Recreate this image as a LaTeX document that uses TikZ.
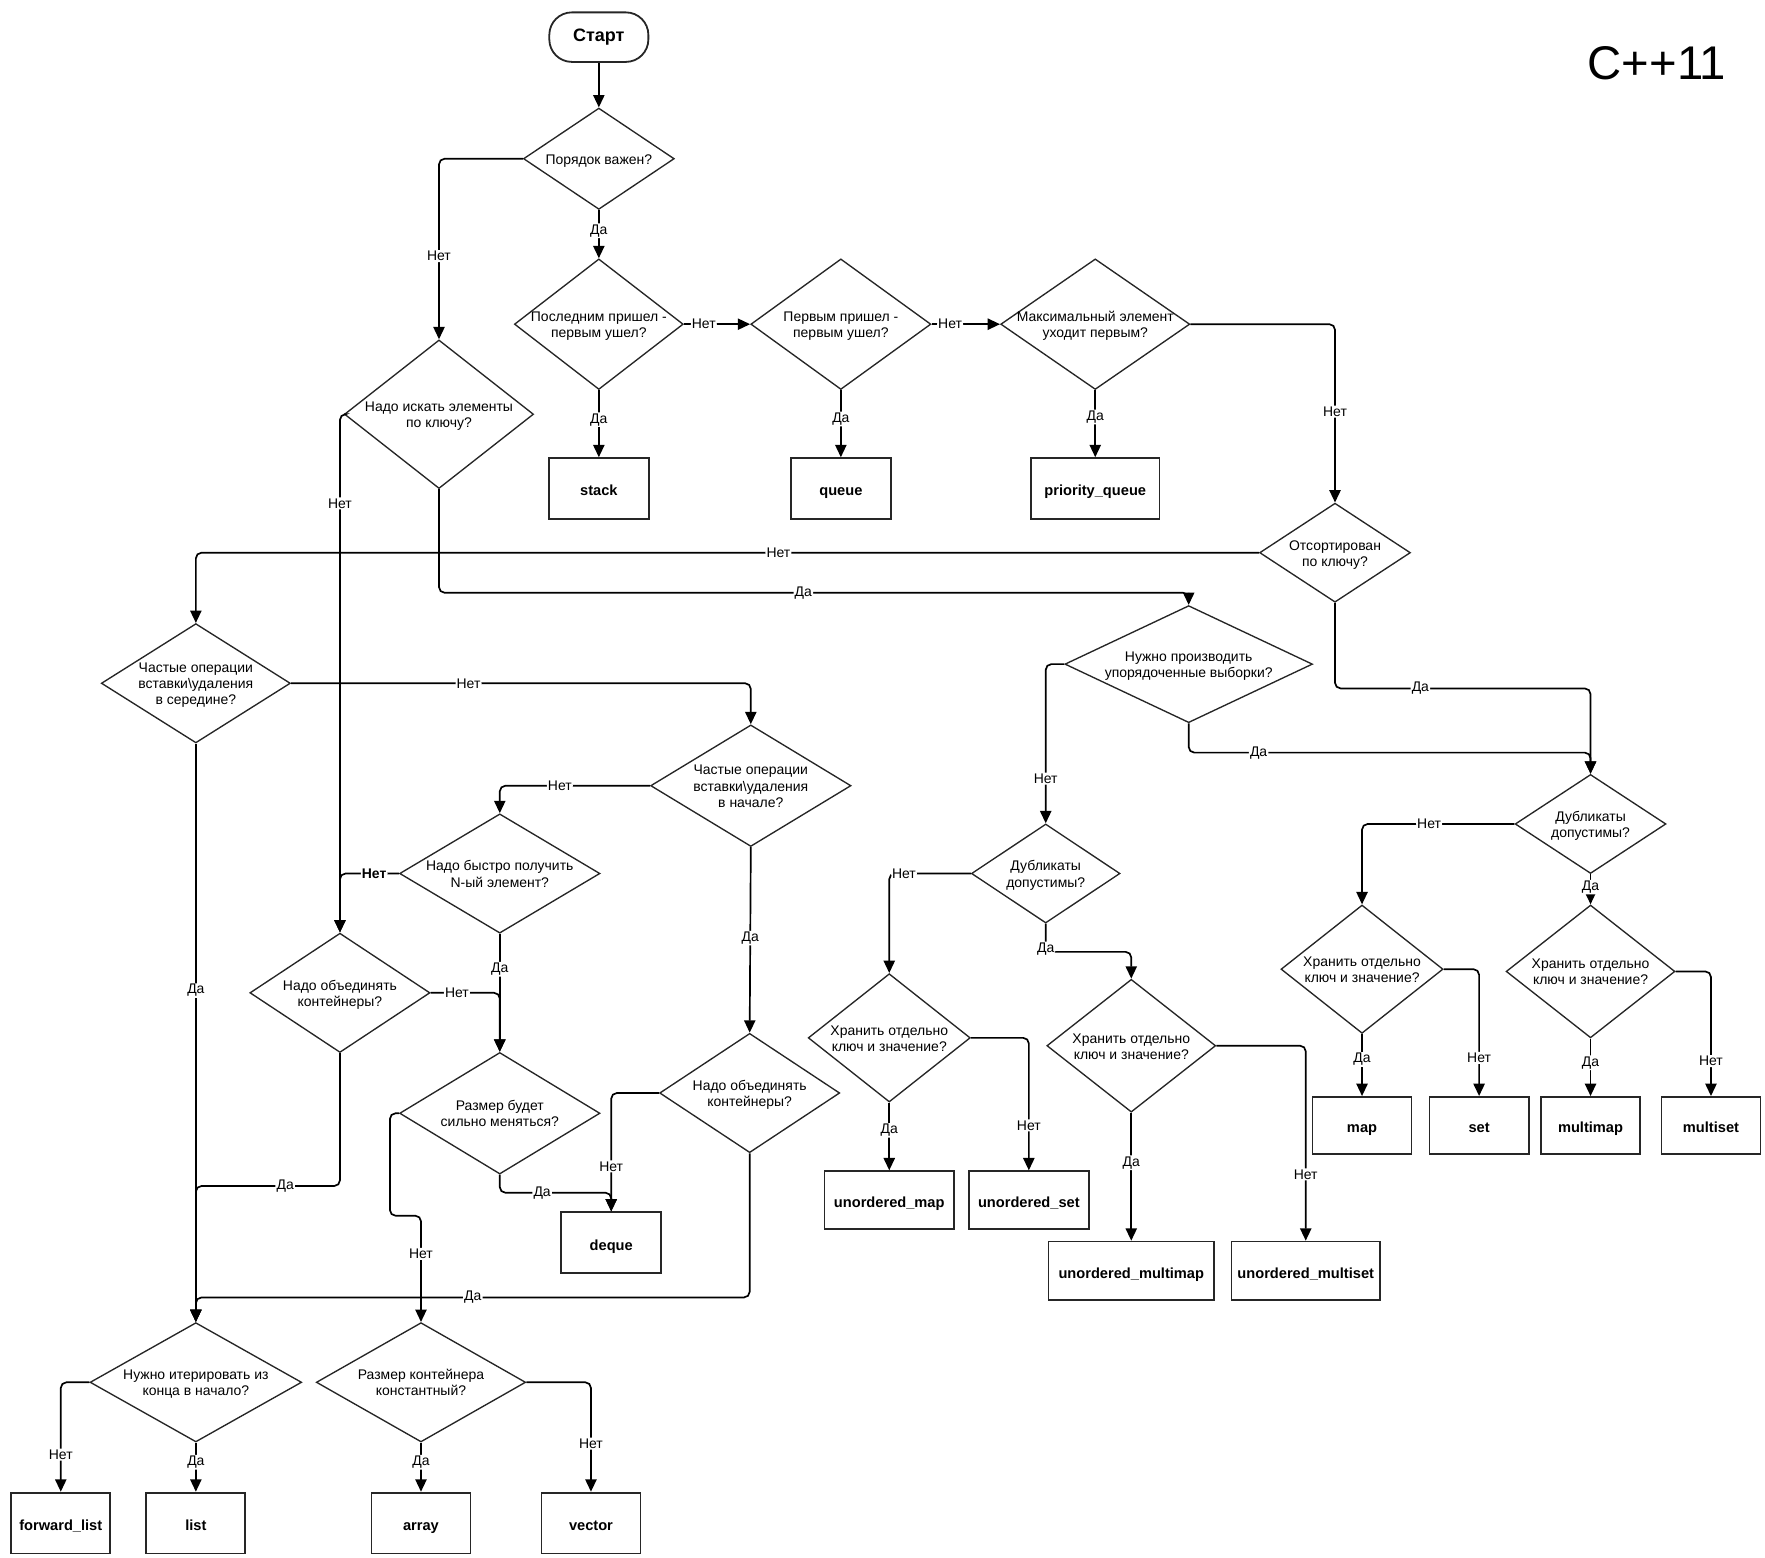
\documentclass[tikz,border=0pt]{standalone}
\usepackage{fontspec}
\setmainfont{Liberation Sans}
\usepackage{tikz}
\usetikzlibrary{shapes.geometric,arrows.meta}

\newcommand{\figfont}{\fontsize{12.4}{14.4}\selectfont}
\newcommand{\qtext}[1]{\smash{\makebox[0pt]{\raisebox{-0.4em}{\begin{tabular}{@{}c@{}}#1\end{tabular}}}}}

\tikzset{
  decision/.style={diamond, draw=black!85, line width=1.2pt, inner sep=0pt},
  leaf/.style={draw=black!85, line width=1.6pt, inner sep=0pt, text height=13.5pt, text depth=0.5pt,
    font=\fontsize{13}{15}\selectfont\bfseries},
  terminal/.style={draw=black!85, line width=1.6pt, rounded corners=20pt,
    minimum width=88pt, minimum height=44pt, font=\fontsize{16}{19}\selectfont\bfseries},
  flow/.style={draw, line width=1.5pt, rounded corners=5pt, ->},
  lbl/.style={fill=white, inner sep=1pt, font=\figfont},
}

\begin{document}
\begin{tikzpicture}[x=1pt,y=-1pt,font=\figfont]
\useasboundingbox (0,0) rectangle (1568,1384);
\begin{scope}[>={Triangle[length=11pt,width=10pt]}]
    % start and title
    \node[terminal] (start) at (532,33) {Старт};
    \node[font=\fontsize{42}{48}\selectfont] (cpp) at (1472,56) {C++11};

    % questions
    \node[decision, minimum width=134pt, minimum height=90pt] (order) at (532,141) {\qtext{Порядок важен?}};
    \node[decision, minimum width=150pt, minimum height=116pt] (lifo) at (532,288) {\qtext{Последним пришел -\\первым ушел?}};
    \node[decision, minimum width=160pt, minimum height=116pt] (fifo) at (747,288) {\qtext{Первым пришел -\\первым ушел?}};
    \node[decision, minimum width=168pt, minimum height=116pt] (maxfirst) at (973,288) {\qtext{Максимальный элемент\\уходит первым?}};
    \node[decision, minimum width=168pt, minimum height=132pt] (bykey) at (390,368) {\qtext{Надо искать элементы\\по ключу?}};
    \node[decision, minimum width=134pt, minimum height=88pt] (sorted) at (1186,491) {\qtext{Отсортирован\\по ключу?}};
    \node[decision, minimum width=168pt, minimum height=106pt] (midins) at (174,607) {\qtext{Частые операции\\вставки\textbackslash удаления\\в середине?}};
    \node[decision, minimum width=220pt, minimum height=104pt] (ordsel) at (1056,590) {\qtext{Нужно производить\\упорядоченные выборки?}};
    \node[decision, minimum width=178pt, minimum height=108pt] (frontins) at (667,698) {\qtext{Частые операции\\вставки\textbackslash удаления\\в начале?}};
    \node[decision, minimum width=134pt, minimum height=88pt] (dupsR) at (1413,732) {\qtext{Дубликаты\\допустимы?}};
    \node[decision, minimum width=178pt, minimum height=106pt] (nth) at (444,776) {\qtext{Надо быстро получить\\N-ый элемент?}};
    \node[decision, minimum width=132pt, minimum height=88pt] (dupsM) at (929,776) {\qtext{Дубликаты\\допустимы?}};
    \node[decision, minimum width=160pt, minimum height=106pt] (mergeL) at (302,882) {\qtext{Надо объединять\\контейнеры?}};
    \node[decision, minimum width=144pt, minimum height=114pt] (kvA) at (1210,861) {\qtext{Хранить отдельно\\ключ и значение?}};
    \node[decision, minimum width=150pt, minimum height=118pt] (kvB) at (1413,863) {\qtext{Хранить отдельно\\ключ и значение?}};
    \node[decision, minimum width=144pt, minimum height=114pt] (kvC) at (790,922) {\qtext{Хранить отдельно\\ключ и значение?}};
    \node[decision, minimum width=150pt, minimum height=118pt] (kvD) at (1005,929) {\qtext{Хранить отдельно\\ключ и значение?}};
    \node[decision, minimum width=178pt, minimum height=108pt] (resize) at (444,989) {\qtext{Размер будет\\сильно меняться?}};
    \node[decision, minimum width=160pt, minimum height=106pt] (mergeR) at (666,971) {\qtext{Надо объединять\\контейнеры?}};
    \node[decision, minimum width=188pt, minimum height=106pt] (backiter) at (174,1228) {\qtext{Нужно итерировать из\\конца в начало?}};
    \node[decision, minimum width=186pt, minimum height=106pt] (fixsize) at (374,1228) {\qtext{Размер контейнера\\константный?}};

    % containers
    \node[leaf, minimum width=89pt, minimum height=54pt] (stack) at (532,434) {stack};
    \node[leaf, minimum width=89pt, minimum height=54pt] (queue) at (747,434) {queue};
    \node[leaf, minimum width=114pt, minimum height=54pt] (pqueue) at (973,434) {priority\_queue};
    \node[leaf, minimum width=89pt, minimum height=54pt] (deque) at (543,1104) {deque};
    \node[leaf, minimum width=115pt, minimum height=51pt] (umap) at (790,1066) {unordered\_map};
    \node[leaf, minimum width=107pt, minimum height=51pt] (uset) at (914,1066) {unordered\_set};
    \node[leaf, minimum width=147pt, minimum height=52pt] (umultimap) at (1005,1129) {unordered\_multimap};
    \node[leaf, minimum width=132pt, minimum height=52pt] (umultiset) at (1160,1129) {unordered\_multiset};
    \node[leaf, minimum width=88pt, minimum height=51pt] (map) at (1210,1000) {map};
    \node[leaf, minimum width=88pt, minimum height=51pt] (set) at (1314,1000) {set};
    \node[leaf, minimum width=88pt, minimum height=51pt] (multimap) at (1413,1000) {multimap};
    \node[leaf, minimum width=88pt, minimum height=51pt] (multiset) at (1520,1000) {multiset};
    \node[leaf, minimum width=88pt, minimum height=54pt] (fwdlist) at (54,1353) {forward\_list};
    \node[leaf, minimum width=88pt, minimum height=54pt] (list) at (174,1353) {list};
    \node[leaf, minimum width=88pt, minimum height=54pt] (array) at (374,1353) {array};
    \node[leaf, minimum width=88pt, minimum height=54pt] (vector) at (525,1353) {vector};

    % top part
    \draw[flow] (start.south) -- (order.north);
    \draw[flow] (order.south) -- node[lbl,pos=0.43]{Да} (lifo.north);
    \draw[flow] (order.west) -| node[lbl,pos=0.77]{Нет} (bykey.north);
    \draw[flow] (lifo.east) -- node[lbl,pos=0.3]{Нет} (fifo.west);
    \draw[flow] (fifo.east) -- node[lbl,pos=0.27]{Нет} (maxfirst.west);
    \draw[flow] (lifo.south) -- node[lbl,pos=0.44]{Да} (stack.north);
    \draw[flow] (fifo.south) -- node[lbl,pos=0.43]{Да} (queue.north);
    \draw[flow] (maxfirst.south) -- node[lbl,pos=0.4]{Да} (pqueue.north);
    \draw[flow] (maxfirst.east) -| node[lbl,pos=0.745]{Нет} (sorted.north);
    \draw[flow] (sorted.west) -| node[lbl,pos=0.226]{Нет} (midins.north);
    \draw[flow] (bykey.south) -- ++(0,92) -| node[lbl,pos=0.243]{Да} (ordsel.north);
    \draw[flow] (bykey.west) -| node[lbl,pos=0.586]{Нет} (mergeL.north);

    % ordered / unordered
    \draw[flow] (sorted.south) -- ++(0,76) -| node[lbl,pos=0.167]{Да} (dupsR.north);
    \draw[flow] (ordsel.south) -- ++(0,26) -| node[lbl,pos=0.087]{Да} (dupsR.north);
    \draw[flow] (ordsel.west) -| node[lbl,pos=0.86]{Нет} (dupsM.north);
    \draw[flow] (dupsR.west) -| node[lbl,pos=0.28]{Нет} (kvA.north);
    \draw[flow] (dupsR.south) -- node[lbl,pos=0.43]{Да} (kvB.north);
    \draw[flow] (kvA.south) -- node[lbl,pos=0.41]{Да} (map.north);
    \draw[flow] (kvA.east) -| node[lbl,pos=0.85]{Нет} (set.north);
    \draw[flow] (kvB.south) -- node[lbl,pos=0.42]{Да} (multimap.north);
    \draw[flow] (kvB.east) -| node[lbl,pos=0.86]{Нет} (multiset.north);
    \draw[flow] (dupsM.west) -| node[lbl,pos=0.41]{Нет} (kvC.north);
    \draw[flow] (dupsM.south) -- node[lbl,pos=0.9]{Да} ++(0,25) -| (kvD.north);
    \draw[flow] (kvC.south) -- node[lbl,pos=0.41]{Да} (umap.north);
    \draw[flow] (kvC.east) -| node[lbl,pos=0.83]{Нет} (uset.north);
    \draw[flow] (kvD.south) -- node[lbl,pos=0.39]{Да} (umultimap.north);
    \draw[flow] (kvD.east) -| node[lbl,pos=0.83]{Нет} (umultiset.north);

    % sequences
    \draw[flow] (midins.east) -| node[lbl,pos=0.193]{Нет} (frontins.north);
    \draw[flow] (midins.south) -- node[lbl,pos=0.427]{Да} (backiter.north);
    \draw[flow] (frontins.west) -| node[lbl,pos=0.3]{Нет} (nth.north);
    \draw[flow] (frontins.south) -- node[lbl,pos=0.49]{Да} (mergeR.north);
    \draw[flow] (nth.west) -| node[lbl,pos=0.21,font=\figfont\bfseries]{Нет} (mergeL.north);
    \draw[flow] (nth.south) -- node[lbl,pos=0.3]{Да} (resize.north);
    \draw[flow] (mergeL.east) -| node[lbl,pos=0.19]{Нет} (resize.north);
    \draw[flow] (mergeL.south) -- ++(0,118) -| node[lbl,pos=0.19]{Да} (backiter.north);
    \draw[flow] (mergeR.west) -| node[lbl,pos=0.81]{Нет} (deque.north);
    \draw[flow] (resize.south) -- ++(0,16) -| node[lbl,pos=0.19]{Да} (deque.north);
    \draw[flow] (resize.west) -- ++(-8,0) -- ++(0,91) -| node[lbl,pos=0.68]{Нет} (fixsize.north);
    \draw[flow] (mergeR.south) -- ++(0,128) -| node[lbl,pos=0.25]{Да} (backiter.north);
    \draw[flow] (backiter.west) -| node[lbl,pos=0.83]{Нет} (fwdlist.north);
    \draw[flow] (backiter.south) -- node[lbl,pos=0.4]{Да} (list.north);
    \draw[flow] (fixsize.south) -- node[lbl,pos=0.4]{Да} (array.north);
    \draw[flow] (fixsize.east) -| node[lbl,pos=0.78]{Нет} (vector.north);
\end{scope}
\end{tikzpicture}
\end{document}
